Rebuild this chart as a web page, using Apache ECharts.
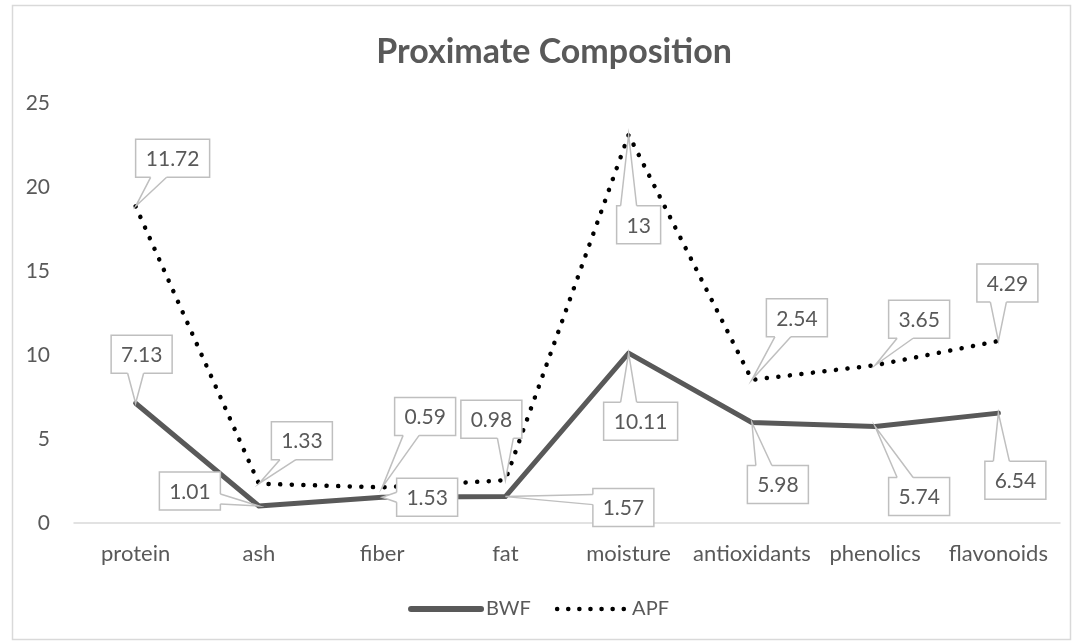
<!DOCTYPE html>
<html>
<head>
<meta charset="utf-8">
<title>Proximate Composition</title>
<script src="https://cdn.jsdelivr.net/npm/echarts@6/dist/echarts.min.js"></script>
<style>
  html, body { margin: 0; padding: 0; background: #ffffff; }
  #chart { width: 1077px; height: 642px; }
</style>
</head>
<body>
<div id="chart"></div>
<script>
// Categories and values
const categories = ['protein', 'ash', 'fiber', 'fat', 'moisture', 'antioxidants', 'phenolics', 'flavonoids'];
const bwfValues = [7.13, 1.01, 1.53, 1.57, 10.11, 5.98, 5.74, 6.54];
const apfValues = [11.72, 1.33, 0.59, 0.98, 13, 2.54, 3.65, 4.29];
const seriesNames = ['BWF', 'APF'];
const yMin = 0, yMax = 25, yStep = 5;

// Callout box placement: offset of the box centre from its point, in pixels
const bwfCallout = [[6, -49], [-69, -15], [45, 0], [118, 11], [12, 68], [26, 62], [44, 70], [17, 67]];
const apfCallout = [[37, -48], [43, -43], [43, -71], [-14, -61], [10, 90], [45, -62], [44, -46], [9, -58]];

const FONT = 'Lato, "Noto Sans", sans-serif';
const TEXT_COLOR = '#595959';
const BOX_STROKE = '#BFBFBF';
const LABEL_SIZE = 21;

const bwfLine = { color: '#595959', width: 5, cap: 'round', join: 'round' };
const apfLine = { color: '#000000', width: 4.5, type: [0.1, 11.5], cap: 'round', join: 'round' };

const measureCtx = document.createElement('canvas').getContext('2d');
measureCtx.font = LABEL_SIZE + 'px Lato';
function textWidth(t) { return measureCtx.measureText(t).width; }
function clamp(v, a, b) { return Math.max(a, Math.min(b, v)); }

// Callout records: [category index, stacked y, shown value, series index]
const calloutData = [];
categories.forEach((c, i) => {
  calloutData.push([i, bwfValues[i], bwfValues[i], 0]);
  calloutData.push([i, bwfValues[i] + apfValues[i], apfValues[i], 1]);
});

function renderCallout(params, api) {
  const i = api.value(0);
  const sIdx = api.value(3);
  const label = String(api.value(2));
  const p = api.coord([i, api.value(1)]);
  const px = p[0], py = p[1];
  const off = (sIdx === 0 ? bwfCallout : apfCallout)[i];
  const cx = px + off[0], cy = py + off[1];
  const w = Math.round(textWidth(label) + 20), h = 38;
  const x0 = cx - w / 2, x1 = cx + w / 2, y0 = cy - h / 2, y1 = cy + h / 2;

  let fillPts, linePts;
  if (py < y0 || py > y1) {
    const ey = py < y0 ? y0 : y1;
    const inward = py < y0 ? 1.5 : -1.5;
    const bc = cx + clamp(px - cx, -14, 14);
    const a = [bc - 8, ey], b = [bc + 8, ey];
    fillPts = [[a[0], ey + inward], a, [px, py], b, [b[0], ey + inward]];
    linePts = [a, [px, py], b];
  } else {
    const ex = px < cx ? x0 : x1;
    const inward = px < cx ? 1.5 : -1.5;
    const bc = cy + clamp(py - cy, -8, 8);
    const a = [ex, bc - 5], b = [ex, bc + 5];
    fillPts = [[ex + inward, a[1]], a, [px, py], b, [ex + inward, b[1]]];
    linePts = [a, [px, py], b];
  }

  return {
    type: 'group',
    children: [
      { type: 'rect', shape: { x: x0, y: y0, width: w, height: h },
        style: { fill: '#ffffff', stroke: BOX_STROKE, lineWidth: 1.5 } },
      { type: 'polygon', shape: { points: fillPts },
        style: { fill: '#ffffff', stroke: null } },
      { type: 'polyline', shape: { points: linePts },
        style: { fill: null, stroke: BOX_STROKE, lineWidth: 1.5 } },
      { type: 'text',
        style: { text: label, x: cx, y: cy + 1, align: 'center', verticalAlign: 'middle',
                 fontSize: LABEL_SIZE, fontFamily: FONT, fill: TEXT_COLOR } }
    ]
  };
}

const chart = echarts.init(document.getElementById('chart'), null, { renderer: 'canvas' });

chart.setOption({
  backgroundColor: '#ffffff',
  animation: false,
  textStyle: { fontFamily: FONT },
  graphic: [{
    type: 'rect', left: 10, top: 3, silent: true, z: -10,
    shape: { width: 1058, height: 634 },
    style: { fill: 'none', stroke: '#D9D9D9', lineWidth: 1.5 }
  }],
  title: {
    text: 'Proximate Composition',
    left: 549,
    textAlign: 'center',
    top: 30,
    textStyle: { fontFamily: FONT, fontSize: 34, fontWeight: 'bold', color: TEXT_COLOR }
  },
  legend: {
    data: [
      { name: seriesNames[0], lineStyle: { width: 6, color: '#595959', cap: 'round' } },
      { name: seriesNames[1], lineStyle: { width: 4.5, color: '#000000', type: [0.1, 11], cap: 'round' } }
    ],
    bottom: 18,
    left: 'center',
    itemWidth: 70,
    itemHeight: 12,
    itemGap: 24,
    itemStyle: { opacity: 0 },
    textStyle: { fontFamily: FONT, fontSize: 20, color: TEXT_COLOR }
  },
  grid: { left: 74, right: 17, top: 103, bottom: 119 },
  xAxis: {
    type: 'category',
    data: categories,
    boundaryGap: true,
    axisTick: { show: false },
    axisLine: { lineStyle: { color: '#D9D9D9', width: 1.5 } },
    axisLabel: { interval: 0, fontFamily: FONT, fontSize: 22, color: TEXT_COLOR, margin: 20 }
  },
  yAxis: {
    type: 'value',
    min: yMin, max: yMax, interval: yStep,
    splitLine: { show: false },
    axisLine: { show: false },
    axisTick: { show: false },
    axisLabel: { fontFamily: FONT, fontSize: 21, color: TEXT_COLOR, margin: 24 }
  },
  series: [
    {
      name: seriesNames[0],
      type: 'line',
      stack: 'total',
      data: bwfValues,
      symbol: 'none',
      color: '#595959',
      lineStyle: bwfLine,
      z: 2
    },
    {
      name: seriesNames[1],
      type: 'line',
      stack: 'total',
      data: apfValues,
      symbol: 'none',
      color: '#000000',
      lineStyle: apfLine,
      z: 3
    },
    {
      type: 'custom',
      coordinateSystem: 'cartesian2d',
      data: calloutData,
      encode: { x: 0, y: 1 },
      renderItem: renderCallout,
      clip: false,
      silent: true,
      z: 10
    }
  ]
});
</script>
</body>
</html>
